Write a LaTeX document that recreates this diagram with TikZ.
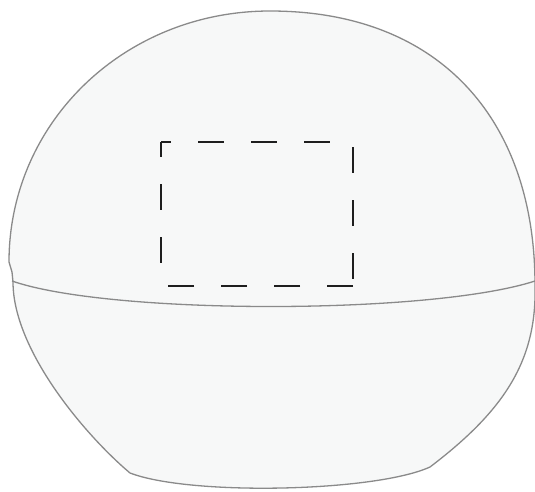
\documentclass[tikz,border=0pt]{standalone}
\usepackage{tikz}
\usetikzlibrary{calc}
\definecolor{ShellGray}{HTML}{8A8A8A}
\definecolor{ShellFill}{HTML}{F7F8F8}
\definecolor{BoxInk}{HTML}{1E1E1E}

\begin{document}
\begin{tikzpicture}[x=1pt,y=-1pt,
    rim/.style={ShellGray,line width=1.3pt},
    cutbox/.style={BoxInk,line width=2.6pt,dash pattern=on 26pt off 27pt}]
  \useasboundingbox (0,0) rectangle (535,491);
  % outer shell
  \draw[rim,fill=ShellFill] (9,262)
    .. controls (9,122) and (125,11) .. (270,11)
    .. controls (440,11) and (535,120) .. (535,285)
    .. controls (537,360) and (505,410) .. (430,467)
    .. controls (375,492) and (190,496) .. (130,473)
    .. controls (85,435) and (13,350) .. (13,282)
    -- (12,272) -- cycle;
  % equator
  \draw[rim] (12,281) .. controls (110,315) and (430,315) .. (535,281);
  % dashed window
  \coordinate (boxNW) at (161,142);
  \coordinate (boxNE) at (353,142);
  \coordinate (boxSE) at (353,286);
  \coordinate (boxSW) at (161,286);
  \draw[cutbox,dash phase=16pt] (boxNW)--(boxNE);
  \draw[cutbox,dash phase=47.7pt] (boxNE)--(boxSE);
  \draw[cutbox] (boxSE)--(boxSW);
  \draw[cutbox,dash phase=10.7pt] (boxNW)--(boxSW);
\end{tikzpicture}
\end{document}
